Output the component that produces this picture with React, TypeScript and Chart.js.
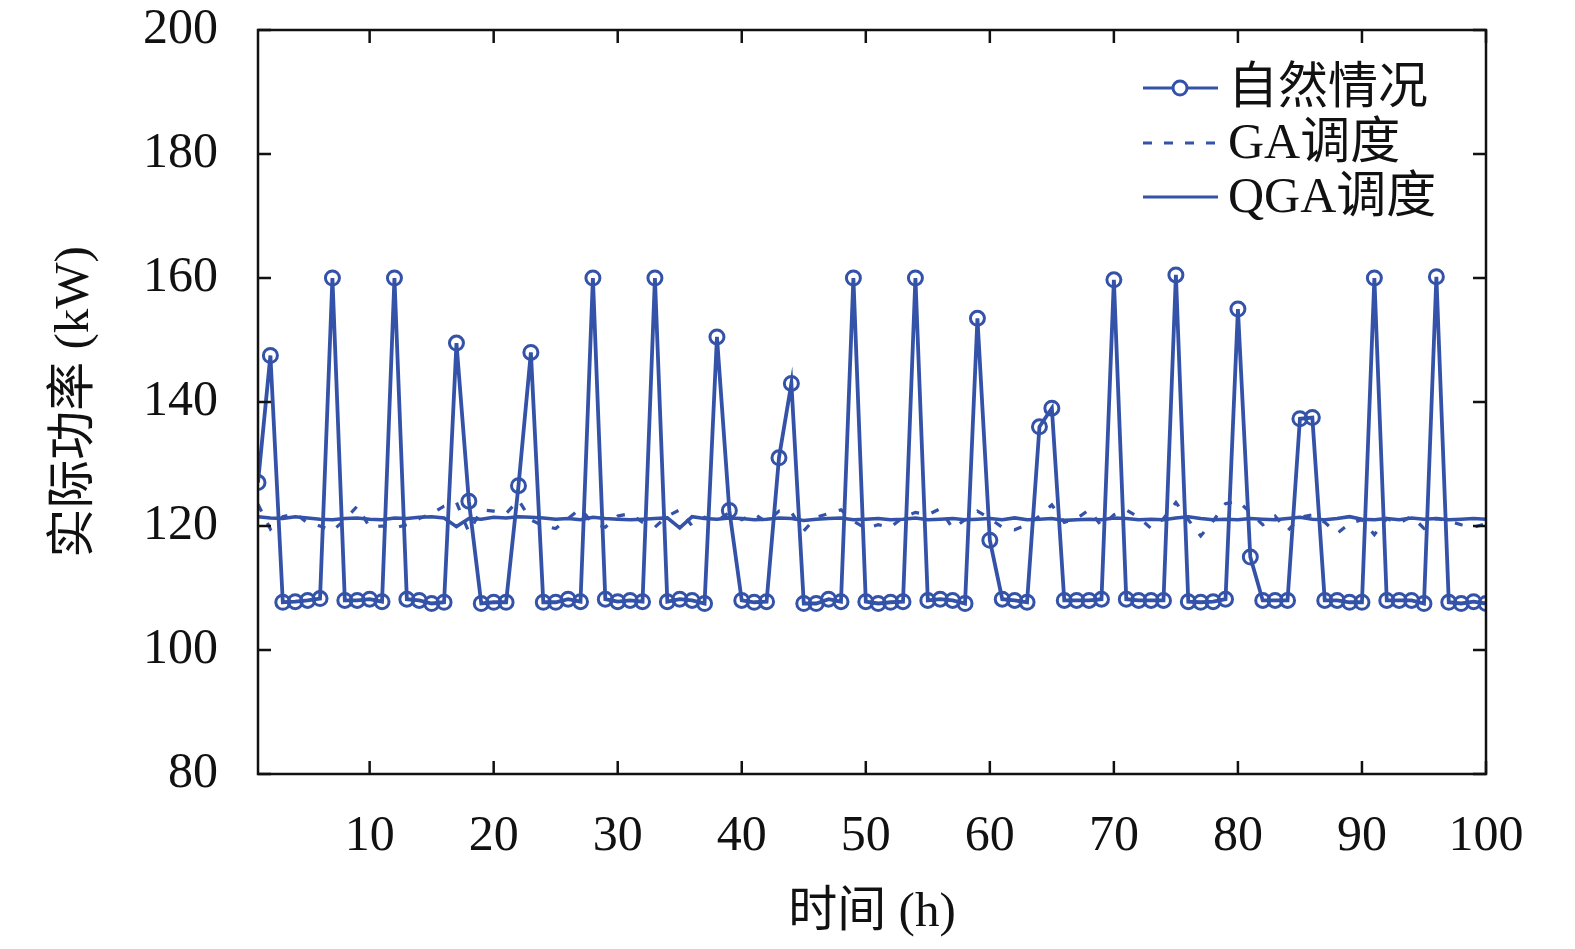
import { useEffect, useRef } from 'react';
import Chart from 'chart.js/auto';

const HOURS = Array.from({ length: 100 }, (_, i) => i + 1);

// 自然情况
const NATURAL = [
  127.0, 147.5, 107.7, 107.8, 108.0, 108.3, 160.0, 108.0, 108.0, 108.2,
  107.8, 160.0, 108.2, 108.0, 107.5, 107.7, 149.5, 124.0, 107.5, 107.7,
  107.7, 126.5, 148.0, 107.7, 107.7, 108.2, 107.8, 160.0, 108.2, 107.8,
  108.0, 107.8, 160.0, 107.8, 108.2, 108.0, 107.5, 150.5, 122.5, 108.0,
  107.7, 107.8, 131.0, 143.0, 107.5, 107.5, 108.2, 107.8, 160.0, 107.8,
  107.5, 107.7, 107.8, 160.0, 108.0, 108.2, 108.0, 107.5, 153.5, 117.7,
  108.2, 108.0, 107.7, 136.0, 139.0, 108.0, 108.0, 108.0, 108.2, 159.7,
  108.2, 108.0, 108.0, 108.0, 160.5, 107.8, 107.7, 107.8, 108.2, 155.0,
  115.0, 108.0, 108.0, 108.0, 137.3, 137.5, 108.0, 108.0, 107.7, 107.7,
  160.0, 108.0, 108.0, 108.0, 107.5, 160.2, 107.7, 107.5, 107.8, 107.5,
];

// GA调度
const GA = [
  123.5, 119.5, 121.5, 122.0, 120.5, 120.0, 119.2, 121.0, 123.2, 119.8,
  120.0, 119.7, 120.2, 121.2, 122.0, 123.2, 123.8, 119.0, 122.6, 122.4,
  122.0, 124.2, 121.0, 120.0, 119.6, 121.2, 122.8, 120.4, 119.8, 121.6,
  122.0, 120.6, 119.8, 121.6, 122.6, 120.0, 121.4, 120.8, 122.2, 121.0,
  122.0, 120.6, 122.4, 122.2, 119.2, 121.4, 122.0, 122.6, 120.8, 119.6,
  120.2, 119.8, 121.4, 122.2, 121.8, 122.8, 119.6, 121.0, 122.4, 121.2,
  119.8, 119.4, 120.2, 121.6, 123.4, 120.6, 121.2, 122.6, 120.0, 121.8,
  122.6, 121.4, 119.6, 121.2, 123.8, 121.0, 118.4, 120.8, 123.6, 124.0,
  122.2, 120.2, 121.6, 119.2, 121.4, 121.8, 120.6, 118.8, 120.4, 121.0,
  118.6, 121.2, 120.4, 121.6, 119.6, 121.2, 120.8, 120.2, 119.8, 120.4,
];

// QGA调度
const QGA = [
  121.5, 121.3, 121.2, 121.5, 121.3, 121.1, 121.0, 121.2, 121.3, 121.1,
  121.0, 121.3, 121.2, 121.4, 121.5, 121.3, 119.9, 121.2, 121.1, 121.4,
  121.3, 121.5, 121.4, 121.3, 121.1, 121.2, 121.0, 121.4, 121.2, 121.1,
  121.0, 121.1, 121.2, 121.3, 119.7, 121.5, 121.2, 121.1, 121.3, 121.2,
  121.0, 121.1, 121.3, 121.2, 120.9, 121.1, 121.2, 121.3, 121.0, 121.1,
  121.2, 121.0, 121.1, 121.3, 121.0, 121.1, 121.2, 121.0, 121.1, 121.2,
  121.0, 121.3, 121.0, 121.1, 121.2, 120.9, 121.0, 121.1, 121.0, 121.3,
  121.2, 121.0, 121.1, 121.0, 121.3, 121.5, 121.2, 121.0, 121.1, 121.0,
  121.2, 121.1, 121.0, 121.2, 121.4, 121.1, 121.0, 121.2, 121.5, 121.1,
  121.0, 121.2, 121.0, 121.3, 121.1, 121.2, 121.0, 121.1, 121.2, 121.1,
];

const LEGEND = ['自然情况', 'GA调度', 'QGA调度'];
const X_TICKS = [10, 20, 30, 40, 50, 60, 70, 80, 90, 100];

const BLUE = '#3352a8';
const FONT = "'Liberation Serif', 'Noto Sans CJK SC', serif";

const framePlugin = {
  id: 'frame',
  afterDraw(chart: any) {
    const { ctx, chartArea } = chart;
    const { left, right, top, bottom } = chartArea;
    const x = chart.scales.x;
    const y = chart.scales.y;
    const tl = 13;
    ctx.save();
    ctx.strokeStyle = '#111';
    ctx.lineWidth = 2.5;
    ctx.strokeRect(left, top, right - left, bottom - top);
    ctx.beginPath();
    x.ticks.forEach((t: any) => {
      const px = x.getPixelForValue(t.value);
      ctx.moveTo(px, bottom); ctx.lineTo(px, bottom - tl);
      ctx.moveTo(px, top); ctx.lineTo(px, top + tl);
    });
    y.ticks.forEach((t: any) => {
      const py = y.getPixelForValue(t.value);
      ctx.moveTo(left, py); ctx.lineTo(left + tl, py);
      ctx.moveTo(right, py); ctx.lineTo(right - tl, py);
    });
    ctx.stroke();

    // legend
    const rows = [88, 143, 197];
    ctx.strokeStyle = BLUE;
    ctx.lineWidth = 3;
    rows.forEach((ry, i) => {
      ctx.setLineDash(i === 1 ? [9, 12] : []);
      ctx.beginPath();
      ctx.moveTo(1143, ry);
      ctx.lineTo(1218, ry);
      ctx.stroke();
      ctx.setLineDash([]);
      if (i === 0) {
        ctx.beginPath();
        ctx.arc(1180, ry, 7, 0, Math.PI * 2);
        ctx.fillStyle = '#fff';
        ctx.fill();
        ctx.stroke();
      }
      ctx.fillStyle = '#111';
      ctx.font = `50px ${FONT}`;
      ctx.textAlign = 'left';
      ctx.textBaseline = 'middle';
      ctx.fillText(LEGEND[i], 1228, ry + 2);
    });
    ctx.restore();
  },
};

export default function App() {
  const ref = useRef<HTMLCanvasElement | null>(null);

  useEffect(() => {
    if (!ref.current) return;
    const pts = (arr: number[]) => HOURS.map((h, i) => ({ x: h, y: arr[i] }));
    const chart = new Chart(ref.current, {
      type: 'line',
      data: {
        datasets: [
          {
            label: LEGEND[0],
            data: pts(NATURAL),
            borderColor: BLUE,
            borderWidth: 3.8,
            pointRadius: 7,
            pointBorderWidth: 3,
            pointBorderColor: BLUE,
            pointBackgroundColor: 'rgba(0,0,0,0)',
            pointStyle: 'circle',
          },
          {
            label: LEGEND[1],
            data: pts(GA),
            borderColor: BLUE,
            borderWidth: 3.2,
            borderDash: [8, 13],
            pointRadius: 0,
          },
          {
            label: LEGEND[2],
            data: pts(QGA),
            borderColor: BLUE,
            borderWidth: 3.6,
            pointRadius: 0,
          },
        ],
      },
      options: {
        responsive: false,
        animation: false,
        events: [],
        layout: { padding: { top: 30, right: 89, left: 0, bottom: 0 } },
        plugins: { legend: { display: false }, tooltip: { enabled: false } },
        scales: {
          x: {
            type: 'linear',
            min: 1,
            max: 100,
            afterBuildTicks: (s: any) => {
              s.ticks = X_TICKS.map((v) => ({ value: v }));
            },
            afterFit: (s: any) => {
              s.height = 175;
              s.paddingLeft = 0;
              s.paddingRight = 0;
            },
            grid: { display: false, drawTicks: false },
            border: { display: false },
            ticks: {
              color: '#111',
              padding: 33,
              maxRotation: 0,
              font: { family: FONT, size: 50 },
            },
            title: {
              display: true,
              text: '时间 (h)',
              color: '#111',
              padding: { bottom: 6 },
              font: { family: FONT, size: 49 },
            },
          },
          y: {
            min: 80,
            max: 200,
            afterFit: (s: any) => {
              s.width = 258;
              s.paddingTop = 0;
              s.paddingBottom = 0;
            },
            grid: { display: false, drawTicks: false },
            border: { display: false },
            ticks: {
              stepSize: 20,
              color: '#111',
              padding: 40,
              font: { family: FONT, size: 50 },
            },
            title: {
              display: true,
              text: '实际功率 (kW)',
              color: '#111',
              padding: { top: 46 },
              font: { family: FONT, size: 49 },
            },
          },
        },
      },
      plugins: [framePlugin],
    });
    return () => chart.destroy();
  }, []);

  return (
    <div style={{ position: 'absolute', left: 0, top: 0, width: 1575, height: 949, background: '#fff' }}>
      <canvas ref={ref} width={1575} height={949} style={{ width: 1575, height: 949 }} />
    </div>
  );
}
